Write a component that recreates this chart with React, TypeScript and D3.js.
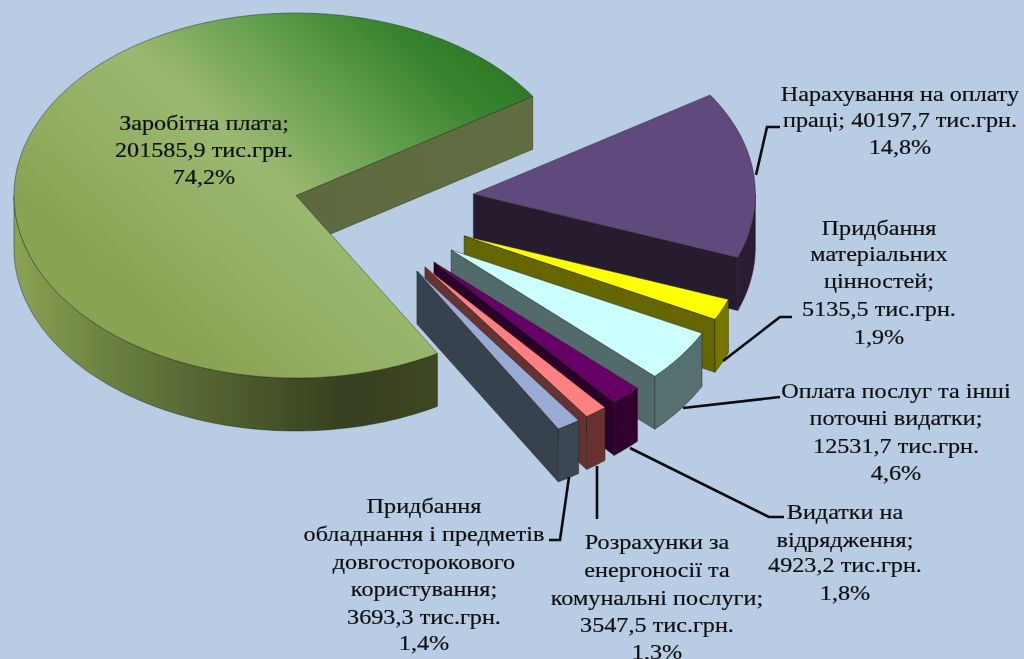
import React from "react";
import * as d3 from "d3";

// ---- data ----
const categories = [
  "Заробітна плата",
  "Нарахування на оплату праці",
  "Придбання матеріальних цінностей",
  "Оплата послуг та інші поточні видатки",
  "Видатки на відрядження",
  "Розрахунки за енергоносії та комунальні послуги",
  "Придбання обладнання і предметів довгосторокового користування",
];
const values = [201585.9, 40197.7, 5135.5, 12531.7, 4923.2, 3547.5, 3693.3];

// ---- appearance / layout ----
const W = 1024, H = 659;
const BG = "#b8cce4";
const topColors = ["url(#mainTop)", "#604a7b", "#ffff00", "#ccffff", "#660066", "#ff8080", "#99aad4"];
const wallColors = ["url(#mainWall)", "#251b2e", "#666600", "#526a6a", "#2b002b", "#663030", "#38424f"];
const rimColors = ["url(#mainRim)", "#2a1f34", "#757500", "#566f6f", "#30002f", "#693333", "#3c4753"];
const explodeDist = [0, 0.629, 0.636, 0.626, 0.61, 0.602, 0.596];
const explodeDir = [0, -0.7, 20.4, 28.5, 36.7, 40.6, 44]; // degrees, clockwise from +x
const cx = 296, cy = 195.5, rx = 282, ry = 182.5, depth = 53;
const startDeg = 149.9;

const labelBlocks = [
  { x: 204, ys: [125, 152, 179], lines: ["Заробітна плата;", "201585,9 тис.грн.", "74,2%"] },
  { x: 900, ys: [96, 122, 149], lines: ["Нарахування на оплату", "праці; 40197,7 тис.грн.", "14,8%"] },
  { x: 879, ys: [230, 256, 283, 311, 339], lines: ["Придбання", "матеріальних", "цінностей;", "5135,5 тис.грн.", "1,9%"] },
  { x: 896, ys: [393, 420, 448, 475], lines: ["Оплата послуг та інші", "поточні видатки;", "12531,7 тис.грн.", "4,6%"] },
  { x: 845, ys: [514, 542, 567, 595], lines: ["Видатки на", "відрядження;", "4923,2 тис.грн.", "1,8%"] },
  { x: 657, ys: [544, 572, 600, 627, 654], lines: ["Розрахунки за", "енергоносії та", "комунальні послуги;", "3547,5 тис.грн.", "1,3%"] },
  { x: 424, ys: [508, 536, 564, 591, 619, 645], lines: ["Придбання", "обладнання і предметів", "довгосторокового", "користування;", "3693,3 тис.грн.", "1,4%"] },
];
const leaders: [number, number][][] = [
  [[756, 175], [767, 127], [780, 127]],
  [[723, 361], [780, 317], [792, 317]],
  [[683, 408], [780, 397]],
  [[630, 448], [769, 517], [784, 517]],
  [[597, 466], [597, 519]],
  [[569, 477], [560, 540], [549, 540]],
];

const rad = (d: number) => (d * Math.PI) / 180;
const pie = d3
  .pie<number>()
  .sort(null)
  .startAngle(rad(startDeg))
  .endAngle(rad(startDeg + 360));
const arcs = pie(values);

const xUnit = d3.scaleLinear().domain([-1, 1]).range([-rx, rx]);
const yUnit = d3.scaleLinear().domain([-1, 1]).range([-ry, ry]);
const line = d3.line();

function slicePaths(i: number) {
  const a = arcs[i];
  const dirRad = rad(explodeDir[i]);
  const ox = cx + xUnit(explodeDist[i] * Math.cos(dirRad));
  const oy = cy + yUnit(explodeDist[i] * Math.sin(dirRad));
  const pt = (t: number, dz = 0): [number, number] => [
    ox + xUnit(Math.sin(t)),
    oy + yUnit(-Math.cos(t)) + dz,
  ];
  const sample = (t0: number, t1: number, dz = 0) => {
    const n = Math.max(2, Math.ceil(Math.abs(t1 - t0) / rad(1)));
    return d3.range(n + 1).map((k) => pt(t0 + ((t1 - t0) * k) / n, dz));
  };
  const top = line([[ox, oy], ...sample(a.startAngle, a.endAngle)]) + "Z";
  const end = pt(a.endAngle);
  const wall =
    line([[ox, oy], end, [end[0], end[1] + depth], [ox, oy + depth]]) + "Z";
  // the rim is visible only on the front half of the ellipse (90..270 deg); test both wraps
  const rims: string[] = [];
  for (const shift of [0, 2 * Math.PI]) {
    const s = Math.max(a.startAngle, rad(90) + shift);
    const e = Math.min(a.endAngle, rad(270) + shift);
    if (e > s) rims.push(line([...sample(s, e), ...sample(e, s, depth)]) + "Z");
  }
  return { top, wall, rims };
}

// later slices overlap the sides of the earlier ones
const paintOrder = d3.range(values.length);

export default function App() {
  return (
    <svg
      width={W}
      height={H}
      viewBox={`0 0 ${W} ${H}`}
      style={{ position: "fixed", left: 0, top: 0, display: "block" }}
    >
      <defs>
        <linearGradient id="mainTop" gradientUnits="userSpaceOnUse" x1={535} y1={96} x2={254} y2={407}>
          <stop offset="0" stopColor="#2d7a29" />
          <stop offset="0.12" stopColor="#3a842f" />
          <stop offset="0.32" stopColor="#649f4d" />
          <stop offset="0.56" stopColor="#9bb870" />
          <stop offset="0.75" stopColor="#95b064" />
          <stop offset="1" stopColor="#8aa353" />
        </linearGradient>
        <linearGradient id="mainRim" gradientUnits="userSpaceOnUse" x1={14} y1={0} x2={440} y2={0}>
          <stop offset="0" stopColor="#8ba353" />
          <stop offset="0.22" stopColor="#6b8140" />
          <stop offset="0.5" stopColor="#4f5f2e" />
          <stop offset="0.78" stopColor="#373f20" />
          <stop offset="1" stopColor="#3f4725" />
        </linearGradient>
        <linearGradient id="mainWall" gradientUnits="userSpaceOnUse" x1={296} y1={0} x2={535} y2={0}>
          <stop offset="0" stopColor="#5d6a40" />
          <stop offset="1" stopColor="#616e42" />
        </linearGradient>
        <filter id="soft" x="-5%" y="-5%" width="110%" height="110%">
          <feGaussianBlur stdDeviation="0.45" />
        </filter>
      </defs>
      <rect width={W} height={H} fill={BG} />
      <g filter="url(#soft)">
        {paintOrder.map((i) => {
          const p = slicePaths(i);
          const edge = { stroke: "#1c2414", strokeOpacity: 0.55, strokeWidth: 0.8, strokeLinejoin: "round" as const };
          return (
            <g key={categories[i]}>
              <path d={p.wall} fill={wallColors[i]} {...edge} />
              {p.rims.map((d, k) => (
                <path key={k} d={d} fill={rimColors[i]} {...edge} />
              ))}
              <path d={p.top} fill={topColors[i]} {...edge} />
            </g>
          );
        })}
        {leaders.map((l, i) => (
          <path key={i} d={line(l) ?? ""} fill="none" stroke="#0a0a0a" strokeWidth={2.6} />
        ))}
      </g>
      <g
        filter="url(#soft)"
        fontFamily="'Liberation Serif', serif"
        fontSize={21.5}
        fill="#101010"
        stroke="#101010"
        strokeWidth={0.2}
        textAnchor="middle"
        dominantBaseline="middle"
      >
        {labelBlocks.map((b, i) =>
          b.lines.map((t, j) => (
            <text key={`${i}-${j}`} transform={`translate(${b.x},${b.ys[j]}) scale(1.125,1)`}>
              {t}
            </text>
          ))
        )}
      </g>
    </svg>
  );
}
